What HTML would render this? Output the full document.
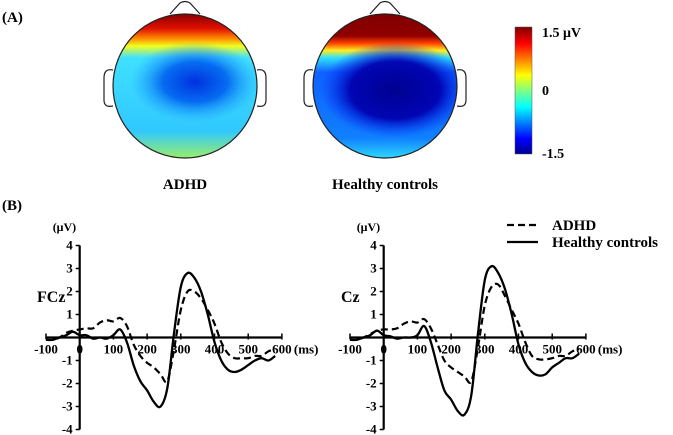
<!DOCTYPE html>
<html><head><meta charset="utf-8"><style>
body{margin:0;background:#fff;}
svg{display:block;font-family:"Liberation Serif",serif;font-weight:bold;}
</style></head><body>
<svg id="fig" width="673" height="435" viewBox="0 0 673 435">
<defs>
<linearGradient id="cbar" x1="0" y1="1" x2="0" y2="0">
<stop offset="0" stop-color="#00008f"/><stop offset="0.12" stop-color="#0000ff"/>
<stop offset="0.37" stop-color="#00ffff"/><stop offset="0.5" stop-color="#80ff80"/>
<stop offset="0.62" stop-color="#ffff00"/><stop offset="0.87" stop-color="#ff0000"/>
<stop offset="1" stop-color="#800000"/></linearGradient>
<linearGradient id="gA" x1="0" y1="0" x2="0" y2="1">
<stop offset="0" stop-color="#8a0000"/><stop offset="0.1" stop-color="#e01000"/>
<stop offset="0.17" stop-color="#ff9000"/><stop offset="0.22" stop-color="#f0ff20"/>
<stop offset="0.3" stop-color="#40e0ff"/><stop offset="0.8" stop-color="#30c8ff"/>
<stop offset="1" stop-color="#a0f060"/></linearGradient>
<linearGradient id="gB" x1="0" y1="0" x2="0" y2="1">
<stop offset="0" stop-color="#800000"/><stop offset="0.15" stop-color="#900000"/>
<stop offset="0.2" stop-color="#ff4000"/><stop offset="0.25" stop-color="#ffee20"/>
<stop offset="0.3" stop-color="#30e0ff"/><stop offset="0.4" stop-color="#1060ff"/>
<stop offset="0.85" stop-color="#1080ff"/><stop offset="1" stop-color="#30e0ff"/></linearGradient>
<radialGradient id="bA"><stop offset="0" stop-color="#0030e0"/><stop offset="0.5" stop-color="#0060f0" stop-opacity="0.9"/><stop offset="1" stop-color="#20a0ff" stop-opacity="0"/></radialGradient>
<radialGradient id="bB"><stop offset="0" stop-color="#000090"/><stop offset="0.6" stop-color="#0000b0" stop-opacity="0.95"/><stop offset="1" stop-color="#0030ff" stop-opacity="0"/></radialGradient>
<clipPath id="cA"><circle cx="185" cy="86" r="72"/></clipPath>
<clipPath id="cB"><circle cx="385" cy="86" r="72"/></clipPath>
</defs>
<text x="2" y="22" font-size="15">(A)</text>
<text x="2" y="210" font-size="15">(B)</text>

<g>
<path d="M170 14 L180 3 Q185 0 190 3 L200 14" fill="#fff" stroke="#222" stroke-width="1.2"/>
<path d="M113 70 Q104 68 104 78 L104 100 Q104 108 113 106" fill="#fff" stroke="#222" stroke-width="1.2"/>
<path d="M257 70 Q266 68 266 78 L266 100 Q266 108 257 106" fill="#fff" stroke="#222" stroke-width="1.2"/>
<g clip-path="url(#cA)"><rect x="110" y="14" width="150" height="146" fill="url(#gA)"/>
<ellipse cx="195" cy="82" rx="65" ry="40" fill="url(#bA)"/></g>
<circle cx="185" cy="86" r="72" fill="none" stroke="#222" stroke-width="1.2"/>
</g>
<g>
<path d="M370 14 L380 3 Q385 0 390 3 L400 14" fill="#fff" stroke="#222" stroke-width="1.2"/>
<path d="M313 70 Q304 68 304 78 L304 100 Q304 108 313 106" fill="#fff" stroke="#222" stroke-width="1.2"/>
<path d="M457 70 Q466 68 466 78 L466 100 Q466 108 457 106" fill="#fff" stroke="#222" stroke-width="1.2"/>
<g clip-path="url(#cB)"><rect x="310" y="14" width="150" height="146" fill="url(#gB)"/>
<ellipse cx="395" cy="90" rx="75" ry="48" fill="url(#bB)"/></g>
<circle cx="385" cy="86" r="72" fill="none" stroke="#222" stroke-width="1.2"/>
</g>
<text x="185" y="189" font-size="15" text-anchor="middle">ADHD</text>
<text x="385" y="189" font-size="15" text-anchor="middle">Healthy controls</text>

<g>
<rect x="515" y="27" width="17" height="127" fill="url(#cbar)" stroke="#555" stroke-width="0.5"/>
<text x="542" y="37" font-size="14">1.5 μV</text>
<text x="542" y="95" font-size="14">0</text>
<text x="542" y="158" font-size="14">-1.5</text>
</g>

<g>
<line x1="507" y1="225" x2="538" y2="225" stroke="#000" stroke-width="2.2" stroke-dasharray="7,4"/>
<text x="552" y="230" font-size="15">ADHD</text>
<line x1="507" y1="242" x2="538" y2="242" stroke="#000" stroke-width="2.2"/>
<text x="552" y="247" font-size="15">Healthy controls</text>
</g>
<g id="charts"></g>
</svg>
<script>
const times=[-100,-80,-60,-40,-20,0,20,40,60,80,100,120,140,160,180,200,220,240,260,280,300,320,340,360,380,400,420,440,460,480,500,520,540,560,580];
const fczHealthy=[-0.1,-0.1,0,0.1,0.25,0.1,0.1,-0.05,0,-0.05,0.1,0.35,-0.2,-1.2,-1.9,-2.3,-2.8,-3.0,-2.2,0.2,2.2,2.8,2.6,2.0,1.0,-0.2,-1.0,-1.4,-1.5,-1.4,-1.2,-1.0,-0.9,-1.0,-0.8];
const fczAdhd=[-0.1,-0.1,0,0.2,0.3,0.35,0.4,0.4,0.65,0.75,0.7,0.85,0.5,-0.3,-0.8,-1.1,-1.3,-1.6,-1.9,-0.5,1.2,2.0,2.0,1.7,1.2,0.6,-0.2,-0.7,-0.9,-0.9,-0.9,-0.8,-0.8,-0.6,-0.5];
const czHealthy=[-0.1,-0.1,0,0.1,0.3,0.1,0.05,-0.05,0,0,0.1,0.5,-0.2,-1.3,-2.3,-2.7,-3.2,-3.35,-2.5,0.2,2.5,3.1,2.8,2.1,1.0,-0.3,-1.1,-1.5,-1.65,-1.6,-1.3,-1.1,-0.9,-0.9,-0.7];
const czAdhd=[-0.1,-0.1,0,0.15,0.3,0.35,0.35,0.4,0.6,0.7,0.65,0.8,0.4,-0.3,-1.0,-1.3,-1.5,-1.7,-1.9,-0.4,1.4,2.2,2.3,1.8,1.2,0.6,-0.2,-0.8,-0.95,-0.95,-0.9,-0.8,-0.8,-0.6,-0.5];
const xTicks=[-100,0,100,200,300,400,500,600];
const yTicks=[-4,-3,-2,-1,1,2,3,4];
const NS="http://www.w3.org/2000/svg";
const root=document.getElementById('charts');
function mk(tag,attrs,parent){const e=document.createElementNS(NS,tag);for(const k in attrs)e.setAttribute(k,attrs[k]);parent.appendChild(e);return e;}
function path(pts){let d='M'+pts[0][0]+' '+pts[0][1];for(let i=0;i<pts.length-1;i++){const p0=pts[Math.max(0,i-1)],p1=pts[i],p2=pts[i+1],p3=pts[Math.min(pts.length-1,i+2)];
d+=' C'+(p1[0]+(p2[0]-p0[0])/6)+' '+(p1[1]+(p2[1]-p0[1])/6)+' '+(p2[0]-(p3[0]-p1[0])/6)+' '+(p2[1]-(p3[1]-p1[1])/6)+' '+p2[0]+' '+p2[1];}return d;}
function chart(ox,label,healthy,adhd,name){
  const g=mk('g',{},root);
  
  
  const y0=337.5,yu=23;
  const X=t=>ox+(t+100)*0.337, Y=v=>y0-v*yu;
  mk('line',{x1:X(0),y1:Y(4),x2:X(0),y2:Y(-4),stroke:'#000','stroke-width':2.2},g);
  mk('line',{x1:X(-100),y1:y0,x2:X(600),y2:y0,stroke:'#000','stroke-width':2.2},g);
  yTicks.forEach(v=>{mk('line',{x1:X(0)-4,y1:Y(v),x2:X(0),y2:Y(v),stroke:'#000','stroke-width':1.5},g);
    const t=mk('text',{x:X(0)-7,y:Y(v)+4,'font-size':13,'text-anchor':'end'},g);t.textContent=v;
    });
  xTicks.forEach(v=>{mk('line',{x1:X(v),y1:y0-4,x2:X(v),y2:y0+2,stroke:'#000','stroke-width':1.5},g);
    const t=mk('text',{x:X(v),y:y0+16,'font-size':13,'text-anchor':'middle'},g);t.textContent=v;
    });
  const u=mk('text',{x:X(0)-27,y:231,'font-size':12},g);u.textContent='(μV)';
  
  const ms=mk('text',{x:X(600)+12,y:y0+16,'font-size':13},g);ms.textContent='(ms)';
  
  const lb=mk('text',{x:ox-9,y:302,'font-size':16},g);lb.textContent=label;
  
  const pa=mk('path',{d:path(times.map((t,i)=>[X(t),Y(adhd[i])])),fill:'none',stroke:'#000','stroke-width':2.2,'stroke-dasharray':'7,4'},g);
  
  const ph=mk('path',{d:path(times.map((t,i)=>[X(t),Y(healthy[i])])),fill:'none',stroke:'#000','stroke-width':2.3},g);
  
}
chart(46,'FCz',fczHealthy,fczAdhd,'fcz-chart');
chart(350,'Cz',czHealthy,czAdhd,'cz-chart');
</script>
</body></html>
